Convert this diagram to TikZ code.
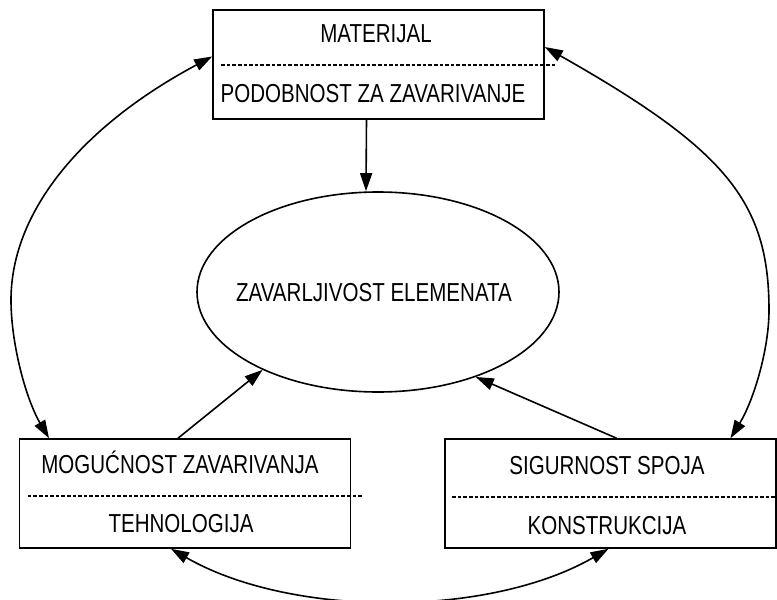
\documentclass[tikz,border=0pt]{standalone}
\usepackage{fontspec}
\setmainfont{Liberation Sans}[FakeStretch=0.79]
\usetikzlibrary{arrows.meta,shapes.geometric}

\begin{document}
\begin{tikzpicture}[x=0.5pt,y=-0.5pt,line width=0.8pt,
    box/.style={draw, minimum width=165.5pt, minimum height=54.5pt, inner sep=0pt},
    lbl/.style={anchor=base, inner sep=0pt, font=\fontsize{13}{15}\selectfont},
    sepline/.style={line width=1pt, dash pattern=on 1.8pt off 1pt},
    arr/.style={-{Triangle[length=9pt,width=6pt]}},
    dbl/.style={{Triangle[length=9pt,width=6pt]}-{Triangle[length=9pt,width=6pt]}}]
    \useasboundingbox (0,0) rectangle (777,600);
    \node[box] (mat) at (378.5,64.5) {};
    \node[box] (teh) at (185,493.5) {};
    \node[box] (kon) at (610.5,493.5) {};
    \node[draw, ellipse, minimum width=181pt, minimum height=100pt] (zav) at (378,292) {};
    \node[lbl] (matA) at (376,42) {MATERIJAL};
    \node[lbl] (matB) at (373,102) {PODOBNOST ZA ZAVARIVANJE};
    \node[lbl] (zavA) at (374,301) {ZAVARLJIVOST ELEMENATA};
    \node[lbl] (tehA) at (180,473) {MOGUĆNOST ZAVARIVANJA};
    \node[lbl] (tehB) at (181,532) {TEHNOLOGIJA};
    \node[lbl] (konA) at (607,474) {SIGURNOST SPOJA};
    \node[lbl] (konB) at (607,534) {KONSTRUKCIJA};
    \coordinate (lft) at (11,300);
    \coordinate (rgt) at (769,310);
    \draw[sepline] ([xshift=4.5pt]mat.west) -- ([xshift=6pt]mat.east);
    \draw[sepline] ([xshift=4.5pt,yshift=-1.25pt]teh.west) -- ([xshift=6pt,yshift=-1.25pt]teh.east);
    \draw[sepline] ([xshift=4pt,yshift=-1.5pt]kon.west) -- ([xshift=6pt,yshift=-1.5pt]kon.east);
    \draw[arr] ([xshift=-6pt]mat.south) -- ([xshift=-6pt]zav.north);
    \draw[arr] ([xshift=-3.5pt]teh.north) -- (zav.214);
    \draw[arr] ([xshift=3pt]kon.north) -- (zav.319);
    \draw[dbl] ([yshift=4pt]mat.west) .. controls +(-131,70) and +(0,-88) .. (lft)
        .. controls +(0,44) and +(-23,-39) .. ([xshift=-68pt]teh.north);
    \draw[dbl] ([yshift=8.75pt]mat.east) .. controls +(180,102) and +(0,-109) .. (rgt)
        .. controls +(0,40) and +(23,-37.5) .. ([xshift=60pt]kon.north);
    \draw[dbl] ([xshift=-7pt]teh.south) .. controls +(120,69) and +(-120,69) .. ([xshift=-1pt]kon.south);
\end{tikzpicture}
\end{document}
